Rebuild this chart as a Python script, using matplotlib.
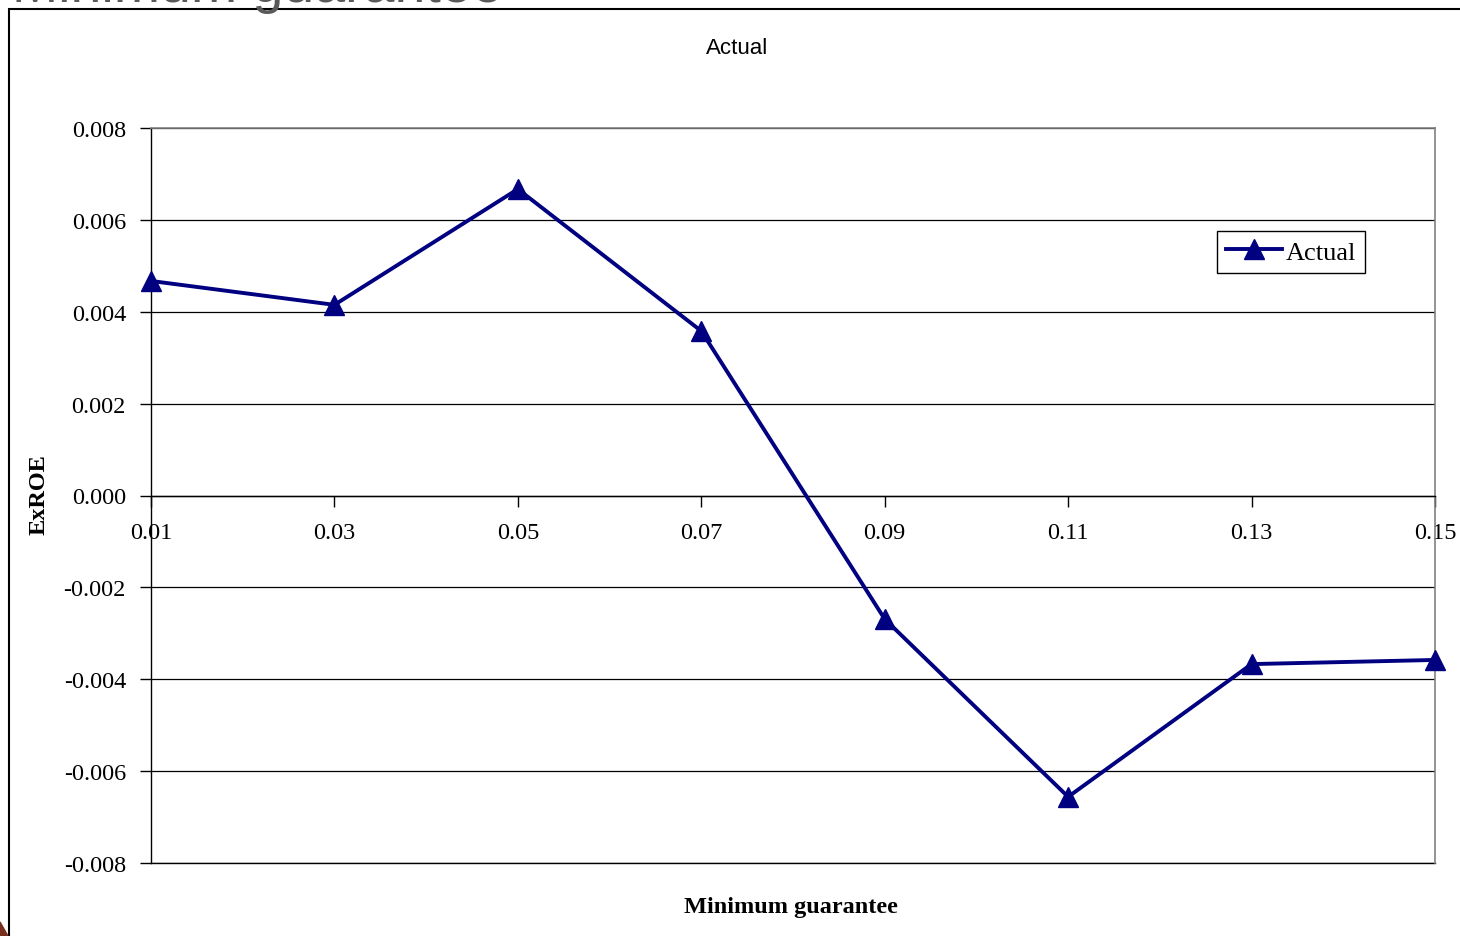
import matplotlib
matplotlib.use('Agg')
import matplotlib.pyplot as plt
from matplotlib.patches import Rectangle, Polygon

plt.rcParams['axes.unicode_minus'] = False

# minimum guarantee levels and the corresponding excess ROE
guarantee = [0.01, 0.03, 0.05, 0.07, 0.09, 0.11, 0.13, 0.15]
guarantee_labels = ['0.01', '0.03', '0.05', '0.07', '0.09', '0.11', '0.13', '0.15']
exroe = [0.00467, 0.00415, 0.00667, 0.00358, -0.00269, -0.00656, -0.00367, -0.00358]

y_ticks = [-0.008, -0.006, -0.004, -0.002, 0.0, 0.002, 0.004, 0.006, 0.008]
y_labels = ['-0.008', '-0.006', '-0.004', '-0.002', '0.000', '0.002', '0.004', '0.006', '0.008']

W, H = 1460, 937
fig = plt.figure(figsize=(W / 100, H / 100), dpi=100)

# outer slide frame + cut off slide heading
fig.patches.append(Rectangle((9 / W, -0.1), 1.2, 1 - 10 / H + 0.1, transform=fig.transFigure,
                             fill=False, edgecolor='black', linewidth=1.5))
fig.text(12 / W, 1 - 1.5 / H, 'Minimum guarantee', fontsize=40, color='#595959',
         family='Liberation Sans', va='baseline', ha='left')
fig.patches.append(Polygon([(0, 0), (8 / W, 0), (0, 14 / H)], closed=True,
                           transform=fig.transFigure, color='#7a2e1e'))

ax = fig.add_axes([151 / W, 1 - 864 / H, (1435 - 151) / W, (864 - 129) / H])

# category axis crosses the value axis at zero
ax.spines['bottom'].set_position(('data', 0))
ax.spines['bottom'].set_color('black')
ax.spines['bottom'].set_linewidth(1.0)

ax.plot(guarantee, exroe, color='#000080', linewidth=2.8, marker='^', markersize=15,
        label='Actual', clip_on=False, zorder=5)

ax.set_xlim(0.01, 0.15)
ax.set_ylim(-0.008, 0.008)
ax.set_yticks(y_ticks)
ax.set_yticklabels(y_labels, family='Liberation Serif', fontsize=17.5)
ax.set_xticks(guarantee)
ax.set_xticklabels(guarantee_labels, family='Liberation Serif', fontsize=17.5)

ax.grid(axis='y', color='black', linewidth=0.9, zorder=0)
ax.grid(axis='x', visible=False)
ax.set_axisbelow(True)
ax.axhline(-0.008, color='black', linewidth=1.0, clip_on=False, zorder=1)

for side in ['top', 'right']:
    ax.spines[side].set_color('#808080')
    ax.spines[side].set_linewidth(1.2)
ax.spines['left'].set_color('black')
ax.spines['left'].set_linewidth(1.0)

ax.tick_params(axis='y', direction='out', length=8, width=1, pad=10)
ax.tick_params(axis='x', direction='out', length=8, width=1, pad=11)

ax.legend(loc='upper left', bbox_to_anchor=(1217 / W, 1 - 232 / H), bbox_transform=fig.transFigure,
          prop={'family': 'Liberation Serif', 'size': 19}, frameon=True, fancybox=False,
          edgecolor='black', framealpha=1, handlelength=2.1, handletextpad=0.15,
          borderpad=0.35, borderaxespad=0)
ax.get_legend().get_frame().set_linewidth(1.0)

fig.text(737 / W, 1 - 48 / H, 'Actual', family='Liberation Sans', fontsize=16,
         ha='center', va='center')
fig.text(791 / W, 1 - 908 / H, 'Minimum guarantee', family='Liberation Serif', fontsize=17.5,
         fontweight='bold', ha='center', va='center')
fig.text(39 / W, 1 - 495 / H, 'ExROE', family='Liberation Serif', fontsize=17.5,
         fontweight='bold', rotation=90, ha='center', va='center')

fig.savefig('out.png', dpi=100)
